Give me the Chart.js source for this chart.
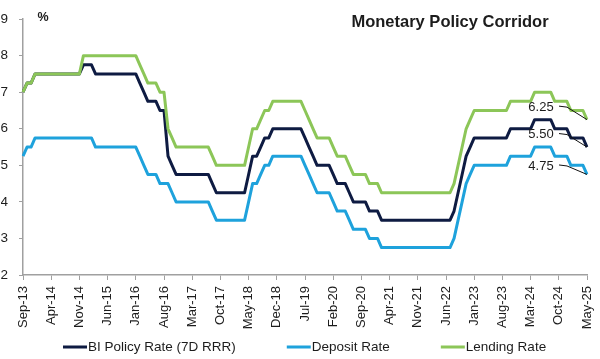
<!DOCTYPE html>
<html>
<head>
<meta charset="utf-8">
<script src="https://cdn.jsdelivr.net/npm/chart.js@4.4.1/dist/chart.umd.min.js"></script>
<style>
html,body{margin:0;padding:0;background:#fff;}
#wrap{width:600px;height:359px;position:relative;}
</style>
</head>
<body>
<div id="wrap"><canvas id="c"></canvas></div>
<script>
// ---------- data ----------
const monthNames = ['Jan','Feb','Mar','Apr','May','Jun','Jul','Aug','Sep','Oct','Nov','Dec'];
const categories = [];
for (let yr = 2013, m = 8; yr < 2025 || (yr === 2025 && m <= 4);) {
  categories.push(monthNames[m] + '-' + String(yr).slice(2));
  m++; if (m === 12) { m = 0; yr++; }
}
const tickLabels = ['Sep-13','Apr-14','Nov-14','Jun-15','Jan-16','Aug-16','Mar-17','Oct-17','May-18','Dec-18',
  'Jul-19','Feb-20','Sep-20','Apr-21','Nov-21','Jun-22','Jan-23','Aug-23','Mar-24','Oct-24','May-25'];
const yTicks = [2,3,4,5,6,7,8,9];
const seriesNames = ['BI Policy Rate (7D RRR)','Deposit Rate','Lending Rate'];
const chartTitle = 'Monetary Policy Corridor';
const unitLabel = '%';

const policyRate = [
  7.00,7.25,7.25,7.50,7.50,7.50,7.50,7.50,7.50,7.50,
  7.50,7.50,7.50,7.50,7.50,7.75,7.75,7.75,7.50,7.50,
  7.50,7.50,7.50,7.50,7.50,7.50,7.50,7.50,7.50,7.25,
  7.00,6.75,6.75,6.75,6.50,6.50,5.25,5.00,4.75,4.75,
  4.75,4.75,4.75,4.75,4.75,4.75,4.75,4.50,4.25,4.25,
  4.25,4.25,4.25,4.25,4.25,4.25,4.75,5.25,5.25,5.50,
  5.75,5.75,6.00,6.00,6.00,6.00,6.00,6.00,6.00,6.00,
  5.75,5.50,5.25,5.00,5.00,5.00,5.00,4.75,4.50,4.50,
  4.50,4.25,4.00,4.00,4.00,4.00,3.75,3.75,3.75,3.50,
  3.50,3.50,3.50,3.50,3.50,3.50,3.50,3.50,3.50,3.50,
  3.50,3.50,3.50,3.50,3.50,3.50,3.50,3.75,4.25,4.75,
  5.25,5.50,5.75,5.75,5.75,5.75,5.75,5.75,5.75,5.75,
  5.75,6.00,6.00,6.00,6.00,6.00,6.00,6.25,6.25,6.25,
  6.25,6.25,6.00,6.00,6.00,6.00,5.75,5.75,5.75,5.75,
  5.50
];
const depositRate = [
  5.25,5.50,5.50,5.75,5.75,5.75,5.75,5.75,5.75,5.75,
  5.75,5.75,5.75,5.75,5.75,5.75,5.75,5.75,5.50,5.50,
  5.50,5.50,5.50,5.50,5.50,5.50,5.50,5.50,5.50,5.25,
  5.00,4.75,4.75,4.75,4.50,4.50,4.50,4.25,4.00,4.00,
  4.00,4.00,4.00,4.00,4.00,4.00,4.00,3.75,3.50,3.50,
  3.50,3.50,3.50,3.50,3.50,3.50,4.00,4.50,4.50,4.75,
  5.00,5.00,5.25,5.25,5.25,5.25,5.25,5.25,5.25,5.25,
  5.00,4.75,4.50,4.25,4.25,4.25,4.25,4.00,3.75,3.75,
  3.75,3.50,3.25,3.25,3.25,3.25,3.00,3.00,3.00,2.75,
  2.75,2.75,2.75,2.75,2.75,2.75,2.75,2.75,2.75,2.75,
  2.75,2.75,2.75,2.75,2.75,2.75,2.75,3.00,3.50,4.00,
  4.50,4.75,5.00,5.00,5.00,5.00,5.00,5.00,5.00,5.00,
  5.00,5.25,5.25,5.25,5.25,5.25,5.25,5.50,5.50,5.50,
  5.50,5.50,5.25,5.25,5.25,5.25,5.00,5.00,5.00,5.00,
  4.75
];
const lendingRate = [
  7.00,7.25,7.25,7.50,7.50,7.50,7.50,7.50,7.50,7.50,
  7.50,7.50,7.50,7.50,7.50,8.00,8.00,8.00,8.00,8.00,
  8.00,8.00,8.00,8.00,8.00,8.00,8.00,8.00,8.00,7.75,
  7.50,7.25,7.25,7.25,7.00,7.00,6.00,5.75,5.50,5.50,
  5.50,5.50,5.50,5.50,5.50,5.50,5.50,5.25,5.00,5.00,
  5.00,5.00,5.00,5.00,5.00,5.00,5.50,6.00,6.00,6.25,
  6.50,6.50,6.75,6.75,6.75,6.75,6.75,6.75,6.75,6.75,
  6.50,6.25,6.00,5.75,5.75,5.75,5.75,5.50,5.25,5.25,
  5.25,5.00,4.75,4.75,4.75,4.75,4.50,4.50,4.50,4.25,
  4.25,4.25,4.25,4.25,4.25,4.25,4.25,4.25,4.25,4.25,
  4.25,4.25,4.25,4.25,4.25,4.25,4.25,4.50,5.00,5.50,
  6.00,6.25,6.50,6.50,6.50,6.50,6.50,6.50,6.50,6.50,
  6.50,6.75,6.75,6.75,6.75,6.75,6.75,7.00,7.00,7.00,
  7.00,7.00,6.75,6.75,6.75,6.75,6.50,6.50,6.50,6.50,
  6.25
];

// ---------- styles ----------
const COLORS = ['#0e1b42', '#1ea2dc', '#8cc658'];
const AXIS = '#a0a0a0';
const TEXT = '#1c1c1c';
const FAMILY = "'Liberation Sans', Arial, sans-serif";

const endLabelDy = [-12.5, -12.5, -8.5];

const overlay = {
  id: 'overlay',
  afterDraw(chart) {
    const {ctx, scales: {x, y}} = chart;
    ctx.save();
    ctx.fillStyle = TEXT;
    ctx.textBaseline = 'middle';
    // title
    ctx.textAlign = 'center';
    ctx.font = 'bold 16.5px ' + FAMILY;
    ctx.fillText(chartTitle, 450, 22);
    // unit
    ctx.font = 'bold 12.5px ' + FAMILY;
    ctx.fillText(unitLabel, 43, 18);
    // end labels
    const last = categories.length - 1;
    const ex = x.getPixelForValue(last);
    ctx.font = '13px ' + FAMILY;
    ctx.strokeStyle = '#111';
    ctx.lineWidth = 1;
    [lendingRate, policyRate, depositRate].forEach((arr, i) => {
      const v = arr[last];
      const ey = y.getPixelForValue(v);
      const ty = ey + endLabelDy[i];
      const tx = ex - 46;
      ctx.textAlign = 'center';
      ctx.fillText(v.toFixed(2), tx, ty);
      ctx.beginPath();
      ctx.moveTo(tx + 18, ty - 1);
      ctx.lineTo(tx + 26, ty);
      ctx.lineTo(ex, ey);
      ctx.stroke();
    });
    // legend
    ctx.font = '13.5px ' + FAMILY;
    ctx.textAlign = 'left';
    const ly = 347;
    let lx = 63;
    seriesNames.forEach((name, i) => {
      ctx.fillStyle = COLORS[i];
      ctx.fillRect(lx, ly - 1.5, 24, 3);
      ctx.fillStyle = TEXT;
      ctx.fillText(name, lx + 25, ly);
      lx += 25 + ctx.measureText(name).width + 51;
    });
    ctx.restore();
  }
};

new Chart(document.getElementById('c'), {
  type: 'line',
  data: {
    labels: categories,
    datasets: [
      { label: seriesNames[0], data: policyRate, borderColor: COLORS[0], backgroundColor: COLORS[0], order: 1 },
      { label: seriesNames[1], data: depositRate, borderColor: COLORS[1], backgroundColor: COLORS[1], order: 2 },
      { label: seriesNames[2], data: lendingRate, borderColor: COLORS[2], backgroundColor: COLORS[2], order: 0 }
    ]
  },
  options: {
    responsive: true,
    maintainAspectRatio: false,
    animation: false,
    devicePixelRatio: 1,
    elements: {
      line: { borderWidth: 3, tension: 0, borderJoinStyle: 'round', borderCapStyle: 'butt' },
      point: { radius: 0, hoverRadius: 0 }
    },
    layout: { padding: { top: 16, right: 13, bottom: 24, left: 1 } },
    plugins: { legend: { display: false }, tooltip: { enabled: false }, title: { display: false } },
    scales: {
      x: {
        type: 'category',
        offset: false,
        grid: { display: true, drawOnChartArea: false, drawTicks: true, tickLength: 5, color: AXIS, lineWidth: 1 },
        border: { display: true, color: AXIS, width: 1.5 },
        ticks: {
          autoSkip: false, maxRotation: 90, minRotation: 90, padding: 6,
          font: { family: FAMILY, size: 13 }, color: TEXT,
          callback(val, idx) { const l = categories[idx]; return tickLabels.includes(l) ? l : null; }
        },
        afterFit(scale) { scale.height = 60; scale.paddingLeft = 0; scale.paddingRight = 0; }
      },
      y: {
        min: yTicks[0], max: yTicks[yTicks.length - 1],
        afterBuildTicks(axis) { axis.ticks = yTicks.map(v => ({ value: v })); },
        grid: { display: true, drawOnChartArea: false, drawTicks: true, tickLength: 4, color: AXIS, lineWidth: 1 },
        border: { display: true, color: AXIS, width: 1.5 },
        ticks: { padding: 11, font: { family: FAMILY, size: 13.5 }, color: TEXT },
        afterFit(scale) { scale.width = 22; }
      }
    }
  },
  plugins: [overlay]
});
</script>
</body>
</html>
